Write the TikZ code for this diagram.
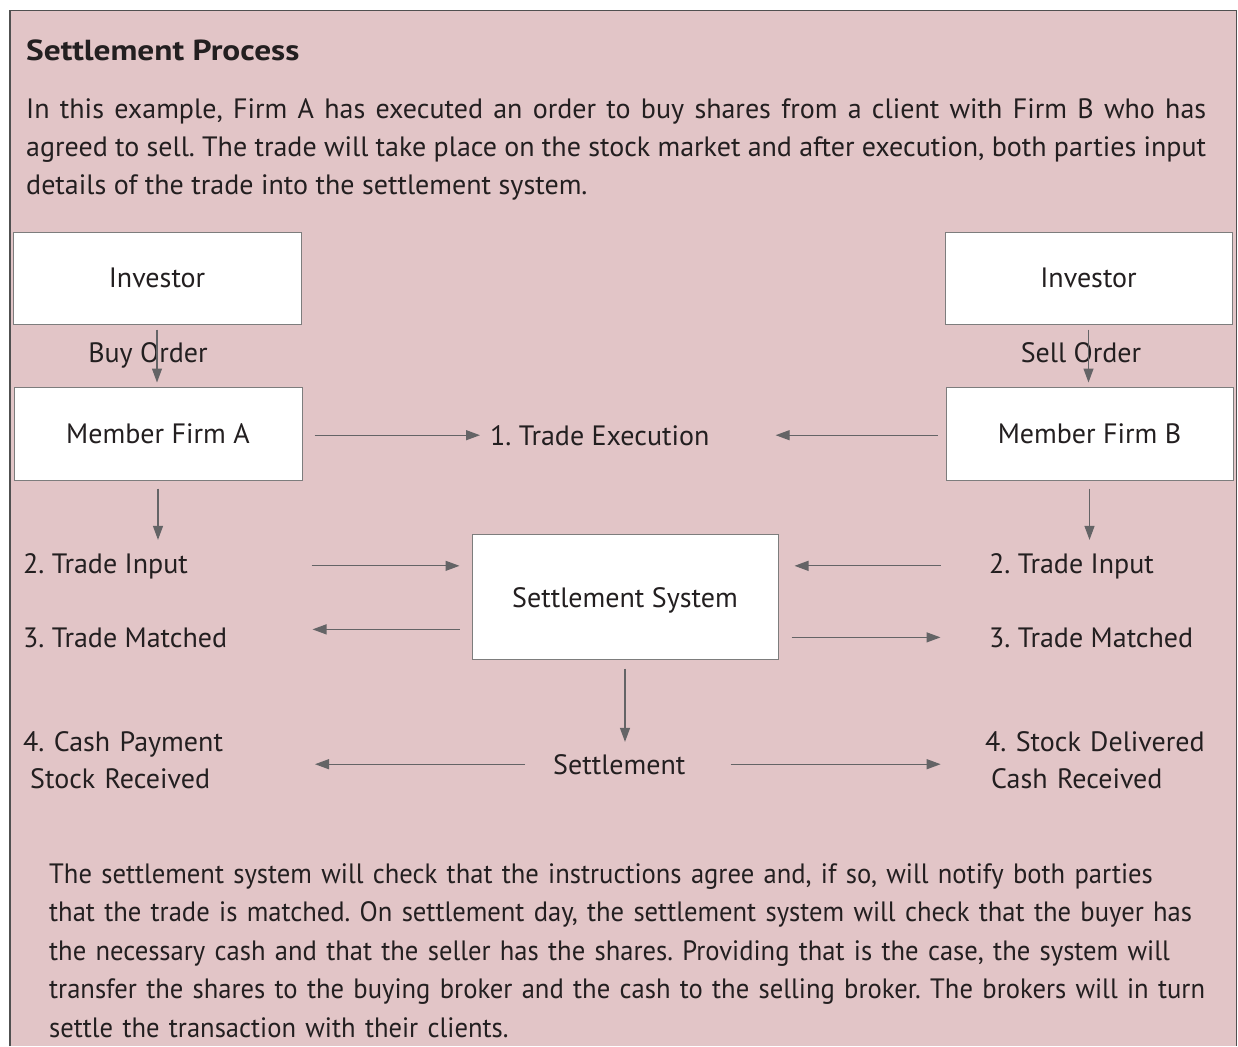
\documentclass[tikz,border=0pt]{standalone}
\usepackage{fontspec}
\setmainfont{PT Sans}
\newfontfamily\narrowfont[FakeStretch=0.95]{PT Sans}
\newfontfamily\headfont[FakeStretch=1.15]{PT Sans}
\usetikzlibrary{arrows.meta}
\frenchspacing

\definecolor{panelpink}{RGB}{226,197,199}
\definecolor{framegray}{RGB}{80,80,80}
\definecolor{boxgray}{RGB}{125,125,125}
\definecolor{arrowgray}{RGB}{100,100,102}
\definecolor{inkgray}{RGB}{35,31,32}

\tikzset{
  party/.style={draw=boxgray, line width=1pt, fill=white, text=inkgray,
    minimum width=288pt, minimum height=92pt, inner sep=0pt},
  lbl/.style={inner sep=0pt, text=inkgray},
  flow/.style={draw=arrowgray, line width=1.2pt, -{Triangle[length=14pt,width=10pt]}},
}

\begin{document}
\begin{tikzpicture}[x=1pt,y=-1pt,font=\fontsize{28}{38}\selectfont]
  \useasboundingbox (0,0) rectangle (1238,1046);
  % panel
  \fill[panelpink] (10,10.5) rectangle (1236.5,1046);
  \draw[framegray, line width=1.3pt] (10,1046) -- (10,10.5) -- (1236.5,10.5) -- (1236.5,1046);

  \node[lbl, anchor=base west, font=\headfont\fontsize{29}{38}\selectfont\bfseries] (title) at (26,61) {Settlement Process};
  \node[lbl, anchor=base west, text width=1180pt, align=justify] (intro) at (26,118)
    {In this example, Firm A has executed an order to buy shares from a client with Firm B who has\linebreak
     agreed to sell. The trade will take place on the stock market and after execution, both parties input\linebreak
     details of the trade into the settlement system.};

  % parties
  \node[party] (invA) at (157,278) {Investor};
  \node[party, minimum width=287pt] (invB) at (1088.5,278) {Investor};
  \node[party, minimum height=93pt] (firmA) at (158,433.5) {Member Firm A};
  \node[party, minimum width=287pt, minimum height=93pt] (firmB) at (1089.5,433.5) {Member Firm B};
  \node[party, minimum width=306pt, minimum height=125pt, text height=27pt, text depth=6pt] (sys) at (625,596.5) {Settlement System};

  % step labels
  \node[lbl, anchor=base] (buy) at (148,362) {Buy Order};
  \node[lbl, anchor=base] (sell) at (1081,362) {Sell Order};
  \node[lbl, anchor=base west] (exec) at (490,445) {1. Trade Execution};
  \node[lbl, anchor=base west] (inA) at (23,573) {2. Trade Input};
  \node[lbl, anchor=base west] (matchA) at (23,647) {3. Trade Matched};
  \node[lbl, anchor=base west] (inB) at (989,573) {2. Trade Input};
  \node[lbl, anchor=base west] (matchB) at (989,647) {3. Trade Matched};
  \node[lbl, anchor=base west] (settle) at (553,774) {Settlement};
  \node[lbl, anchor=base west, text width=260pt, align=left, font=\fontsize{28}{37}\selectfont] (cashA) at (23,751)
    {4. Cash Payment\\\hspace*{7pt}Stock Received};
  \node[lbl, anchor=base west, text width=240pt, align=left, font=\fontsize{28}{37}\selectfont] (stockB) at (985,751)
    {4. Stock Delivered\\\hspace*{6pt}Cash Received};

  \node[lbl, anchor=base west, text width=1185pt, align=left, font=\narrowfont\fontsize{28}{38.5}\selectfont] (notes) at (49,883)
    {The settlement system will check that the instructions agree and, if so, will notify both parties\\
     that the trade is matched. On settlement day, the settlement system will check that the buyer has\\
     the necessary cash and that the seller has the shares. Providing that is the case, the system will\\
     transfer the shares to the buying broker and the cash to the selling broker. The brokers will in turn\\
     settle the transaction with their clients.};

  % orders and execution
  \draw[flow, shorten <=5pt, shorten >=4pt] (invA.south) -- (invA.south |- firmA.north);
  \draw[flow, shorten <=5pt, shorten >=4pt] (invB.south) -- (invB.south |- firmB.north);
  \draw[flow, shorten <=12pt, shorten >=10pt] (firmA.east |- exec.west) -- (exec.west);
  \draw[flow, shorten <=8pt, shorten >=66pt] (firmB.west |- exec.east) -- (exec.east);
  \draw[flow, shorten <=8pt, shorten >=13pt] (firmA.south) -- (firmA.south |- inA.north);
  \draw[flow, shorten <=8pt, shorten >=13pt] (firmB.south) -- (firmB.south |- inB.north);

  % input and matching
  \coordinate (inAend) at (sys.west |- inA.east);
  \coordinate (mA) at ([yshift=8pt]sys.west |- matchA.east);
  \coordinate (inBend) at (sys.east |- inB.west);
  \coordinate (mB) at (sys.east |- matchB.west);
  \draw[flow, shorten >=12pt] ([xshift=-160pt]inAend) -- (inAend);
  \draw[flow, shorten <=12pt] (mA) -- ([xshift=-159pt]mA);
  \draw[flow, shorten >=16pt] ([xshift=162pt]inBend) -- (inBend);
  \draw[flow, shorten <=13pt] (mB) -- ([xshift=162pt]mB);

  % settlement
  \draw[flow, shorten <=9pt, shorten >=12pt] (sys.south) -- (sys.south |- settle.north);
  \draw[flow, shorten <=28pt] (settle.west) -- ([xshift=-238pt]settle.west);
  \draw[flow, shorten <=45pt] (settle.east) -- ([xshift=255pt]settle.east);
\end{tikzpicture}
\end{document}
